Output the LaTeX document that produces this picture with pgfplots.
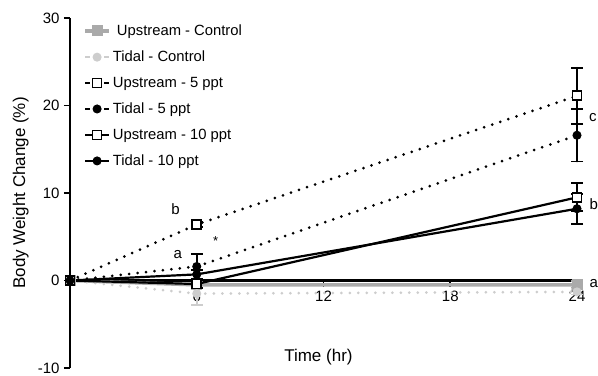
\documentclass[border=0pt]{standalone}
\usepackage{pgfplots}
\pgfplotsset{compat=1.18}
\usepackage{fontspec}
\setmainfont{Liberation Sans}
\definecolor{ucgray}{RGB}{170,170,170}
\definecolor{tcgray}{RGB}{205,205,205}
\tikzset{mydot/.style={line width=3pt, line cap=round, dash pattern=on 0pt off 8.5pt}}
\begin{document}
\fontsize{13}{15}\selectfont
\begin{tikzpicture}
\begin{axis}[
  name=ax,
  scale only axis, width=507pt, height=350pt,
  xmin=0, xmax=24, ymin=-10, ymax=30,
  axis x line=middle, axis y line=left,
  axis line style={-, line width=2.2pt, black},
  xtick={6,12,18,24}, ytick={-10,0,10,20,30},
  tick align=outside, major tick length=6pt,
  tick style={line width=1.8pt, black},
  hide obscured x ticks=false, hide obscured y ticks=false,
  /pgf/number format/assume math mode=true,
  ticklabel style={font=\fontsize{15}{17}\selectfont},
  xlabel={Time (hr)}, ylabel={Body Weight Change (\%)},
  label style={font=\fontsize{17}{19}\selectfont},
  xlabel style={at={(axis description cs:0.49,0.03)}, anchor=center},
  ylabel style={at={(axis description cs:-0.097,0.5)}, anchor=center},
  clip=false,
  legend cell align=left,
  legend style={at={(axis description cs:0.02,0.993)}, anchor=north west, draw=none, fill=none,
    font=\fontsize{14.8}{17}\selectfont, row sep=9.5pt},
  legend image code/.code={\draw[mark repeat=2,mark phase=2,#1] plot coordinates {(0pt,0pt) (12pt,0pt) (24pt,0pt)};},
  error bars/y dir=both, error bars/y explicit,
  error bars/error bar style={line width=1.8pt, solid},
  error bars/error mark options={rotate=90, mark size=6pt, line width=1.8pt, solid},
]
% Upstream - Control
\addplot[ucgray, line width=3.5pt, mark=square*, mark size=5pt, mark options={solid, fill=ucgray, draw=ucgray, line width=1pt},
  error bars/error bar style={ucgray, line width=1.8pt}, error bars/error mark options={rotate=90, mark size=6pt, line width=1.8pt, ucgray}]
  table[y error plus=ep, y error minus=em] {
x y ep em
0 0 0 0
6 -0.5 0.4 0.4
24 -0.5 0.4 0.4
};
\addlegendentry{\ Upstream - Control}
% Tidal - Control
\addplot[tcgray, mydot, mark=*, mark size=4pt, mark options={solid, fill=tcgray, draw=tcgray, line width=1pt},
  legend image post style={line width=2.5pt, line cap=butt, dash pattern=on 5pt off 14pt},
  error bars/error bar style={tcgray, line width=1.8pt, solid}, error bars/error mark options={rotate=90, mark size=6pt, line width=1.8pt, tcgray, solid}]
  table[y error plus=ep, y error minus=em] {
x y ep em
0 0 0 0
6 -1.5 1.3 1.3
24 -1.3 0.3 0.3
};
\addlegendentry{Tidal - Control}
% Upstream - 5 ppt
\addplot[black, mydot, mark=square*, mark size=4.5pt, mark options={solid, fill=white, draw=black, line width=1.8pt},
  legend image post style={line width=2.5pt, line cap=butt, dash pattern=on 5pt off 14pt}]
  table[y error plus=ep, y error minus=em] {
x y ep em
0 0 0 0
6 6.4 0.3 0.3
24 21.1 3.2 3.2
};
\addlegendentry{Upstream - 5 ppt}
% Tidal - 5 ppt
\addplot[black, mydot, mark=*, mark size=4pt, mark options={solid, fill=black, draw=black, line width=1pt},
  legend image post style={line width=2.5pt, line cap=butt, dash pattern=on 5pt off 14pt}]
  table[y error plus=ep, y error minus=em] {
x y ep em
0 0 0 0
6 1.6 1.4 1.4
24 16.6 3.0 3.0
};
\addlegendentry{Tidal - 5 ppt}
% Upstream - 10 ppt
\addplot[black, line width=2.2pt, mark=square*, mark size=4.5pt, mark options={solid, fill=white, draw=black, line width=1.8pt}]
  table[y error plus=ep, y error minus=em] {
x y ep em
0 0 0 0
6 -0.4 0.5 0.5
24 9.5 1.6 1.6
};
\addlegendentry{Upstream - 10 ppt}
% Tidal - 10 ppt
\addplot[black, line width=2.2pt, mark=*, mark size=4pt, mark options={solid, fill=black, draw=black, line width=1pt}]
  table[y error plus=ep, y error minus=em] {
x y ep em
0 0 0 0
6 0.7 0.5 0.5
24 8.2 1.7 1.7
};
\addlegendentry{Tidal - 10 ppt}
\node[font=\fontsize{15}{17}\selectfont] at (axis cs:5.0,8.1) {b};
\node[font=\fontsize{15}{17}\selectfont] at (axis cs:5.1,3.0) {a};
\node[font=\fontsize{13}{15}\selectfont] at (axis cs:6.9,4.5) {*};
\node[font=\fontsize{15}{17}\selectfont] at (axis cs:24.75,18.6) {c};
\node[font=\fontsize{15}{17}\selectfont] at (axis cs:24.8,8.7) {b};
\node[font=\fontsize{15}{17}\selectfont] at (axis cs:24.8,-0.3) {a};
\coordinate (BL) at (rel axis cs:0,0);
\coordinate (TR) at (rel axis cs:1,1);
\end{axis}
\pgfresetboundingbox
\path[use as bounding box] ([shift={(-70pt,-7pt)}]BL) rectangle ([shift={(21pt,18pt)}]TR);
\end{tikzpicture}
\end{document}
